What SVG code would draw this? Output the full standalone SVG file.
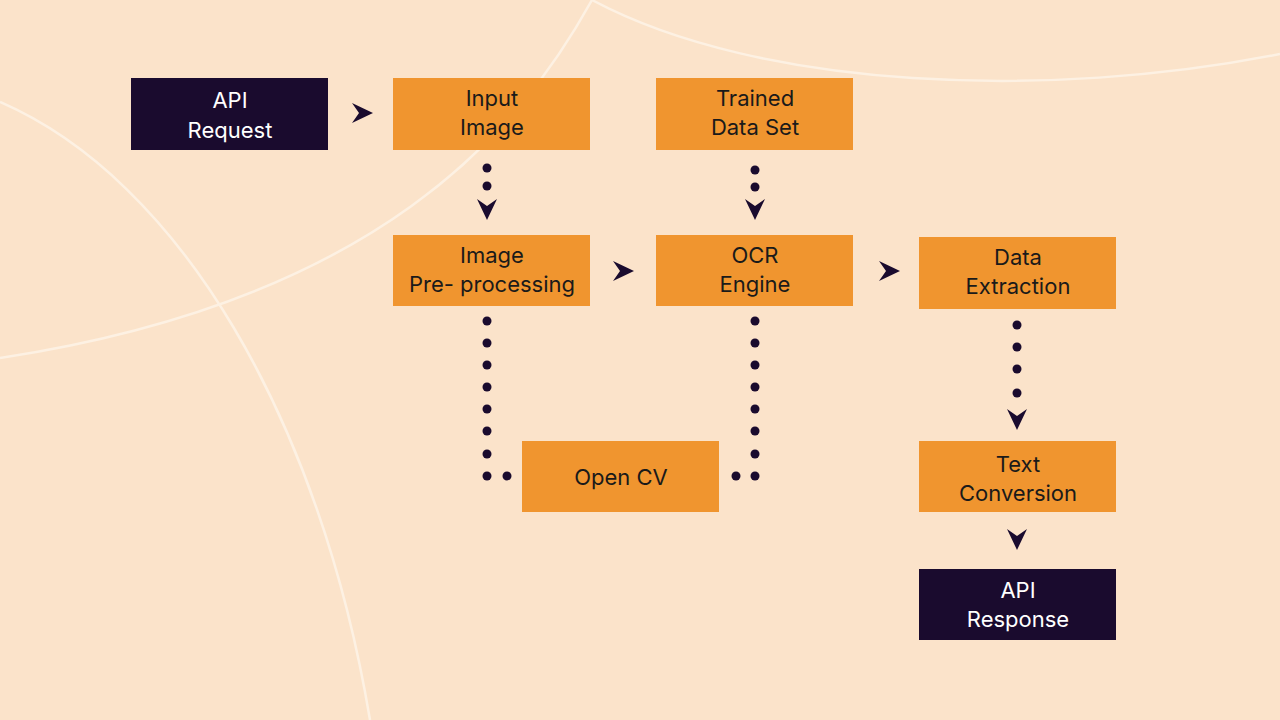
<svg xmlns="http://www.w3.org/2000/svg" width="1280" height="720" viewBox="0 0 1280 720">
<defs>
<style>
.o{fill:#F0952F}.d{fill:#1A0B2E}
text{font-family:Inter,"Liberation Sans",sans-serif;font-size:22px;text-anchor:middle}
.tl{fill:#1A1A1A}.tw{fill:#FFFFFF}
.bg{fill:none;stroke:#FDF1E3;stroke-width:2.5}
</style>
<path id="ar" d="M0,0 L-21,-10 L-14,0 L-21,10 Z" fill="#1A0B2E"/>
</defs>
<rect width="1280" height="720" fill="#FBE3CA"/>
<path class="bg" d="M0,102 C180,180 320,420 370,720"/>
<path class="bg" d="M592,0 C520,130 380,300 0,358"/>
<path class="bg" d="M592,0 C760,90 1050,100 1280,54"/>
<g id="api-request"><rect class="d" x="131" y="78" width="197" height="72"/><text class="tw" x="230" y="108">API</text><text class="tw" x="230" y="138">Request</text></g>
<g id="input-image"><rect class="o" x="393" y="78" width="197" height="72"/><text class="tl" x="492" y="106">Input</text><text class="tl" x="492" y="135">Image</text></g>
<g id="trained"><rect class="o" x="656" y="78" width="197" height="72"/><text class="tl" x="755" y="106">Trained</text><text class="tl" x="755" y="135">Data Set</text></g>
<g id="preproc"><rect class="o" x="393" y="235" width="197" height="71"/><text class="tl" x="492" y="263">Image</text><text class="tl" x="492" y="292">Pre- processing</text></g>
<g id="ocr"><rect class="o" x="656" y="235" width="197" height="71"/><text class="tl" x="755" y="263">OCR</text><text class="tl" x="755" y="292">Engine</text></g>
<g id="extraction"><rect class="o" x="919" y="237" width="197" height="72"/><text class="tl" x="1018" y="265">Data</text><text class="tl" x="1018" y="294">Extraction</text></g>
<g id="opencv"><rect class="o" x="522" y="441" width="197" height="71"/><text class="tl" x="621" y="485">Open CV</text></g>
<g id="textconv"><rect class="o" x="919" y="441" width="197" height="71"/><text class="tl" x="1018" y="472">Text</text><text class="tl" x="1018" y="501">Conversion</text></g>
<g id="api-response"><rect class="d" x="919" y="569" width="197" height="71"/><text class="tw" x="1018" y="598">API</text><text class="tw" x="1018" y="627">Response</text></g>
<g id="connectors" fill="#1A0B2E">
<use href="#ar" x="373" y="113"/>
<use href="#ar" x="634" y="271"/>
<use href="#ar" x="900" y="271"/>
<circle cx="487" cy="168" r="4.5"/><circle cx="487" cy="186" r="4.5"/>
<use href="#ar" transform="translate(487,220) rotate(90)"/>
<circle cx="755" cy="170" r="4.5"/><circle cx="755" cy="187" r="4.5"/>
<use href="#ar" transform="translate(755,220) rotate(90)"/>
<circle cx="1017" cy="325" r="4.5"/><circle cx="1017" cy="347" r="4.5"/><circle cx="1017" cy="369" r="4.5"/><circle cx="1017" cy="393" r="4.5"/>
<use href="#ar" transform="translate(1017,430) rotate(90)"/>
<use href="#ar" transform="translate(1017,550) rotate(90)"/>
<circle cx="487" cy="321" r="4.5"/><circle cx="487" cy="343" r="4.5"/><circle cx="487" cy="365" r="4.5"/><circle cx="487" cy="387" r="4.5"/><circle cx="487" cy="409" r="4.5"/><circle cx="487" cy="431" r="4.5"/><circle cx="487" cy="454" r="4.5"/><circle cx="487" cy="476" r="4.5"/><circle cx="507" cy="476" r="4.5"/>
<circle cx="755" cy="321" r="4.5"/><circle cx="755" cy="343" r="4.5"/><circle cx="755" cy="365" r="4.5"/><circle cx="755" cy="387" r="4.5"/><circle cx="755" cy="409" r="4.5"/><circle cx="755" cy="431" r="4.5"/><circle cx="755" cy="454" r="4.5"/><circle cx="755" cy="476" r="4.5"/><circle cx="736" cy="476" r="4.5"/>
</g>
</svg>
